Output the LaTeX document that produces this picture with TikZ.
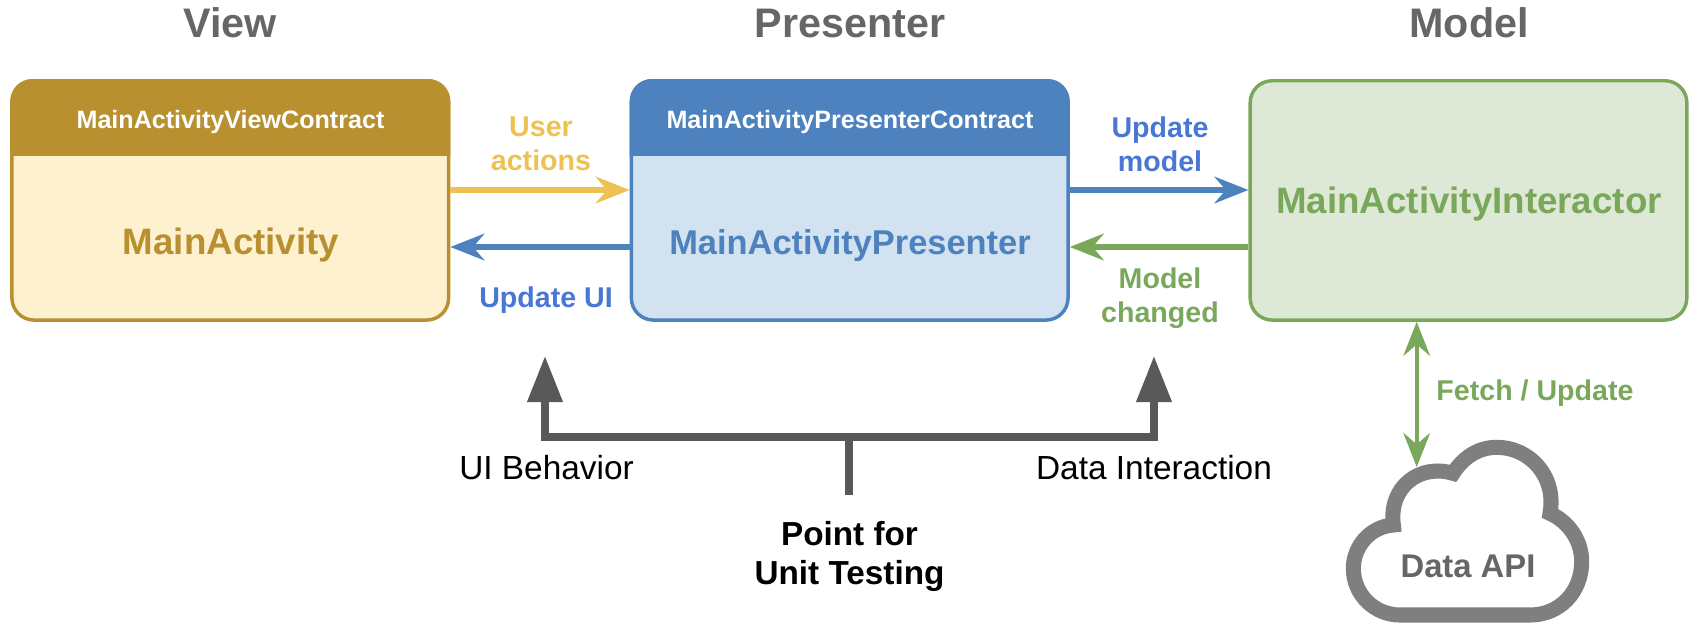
\documentclass[tikz,border=0pt]{standalone}
\usepackage{fontspec}
\setmainfont{Liberation Sans}
\usetikzlibrary{arrows.meta}
\definecolor{goldC}{HTML}{B89030}
\definecolor{goldF}{HTML}{FDF1CF}
\definecolor{yelA}{HTML}{EDC252}
\definecolor{bluC}{HTML}{4E82BE}
\definecolor{bluF}{HTML}{D3E2F1}
\definecolor{bluT}{HTML}{4878D4}
\definecolor{grnC}{HTML}{7AA85A}
\definecolor{grnF}{HTML}{DDE9D6}
\definecolor{grayT}{HTML}{666666}
\definecolor{grayD}{HTML}{595959}
\definecolor{grayC}{HTML}{7F7F7F}
\newcommand{\fpx}[1]{\fontsize{\fpeval{#1*0.75}pt}{\fpeval{#1*0.75*1.18}pt}\selectfont}
\tikzset{
  x=0.75pt,y=-0.75pt,
  txt/.style={anchor=base,inner sep=0pt,outer sep=0pt,align=center},
  title/.style={txt,font=\fpx{41.3}\bfseries,text=grayT},
  hdrtxt/.style={txt,font=\fpx{25.1}\bfseries,text=white},
  maintxt/.style={txt,font=\fpx{36.7}\bfseries},
  lbl/.style={txt,font=\fpx{28.6}\bfseries},
  plain/.style={txt,font=\fpx{33.4},text=black},
  bold/.style={txt,font=\fpx{33.3}\bfseries,text=black},
  box/.style={rectangle,line width=2.6pt,rounded corners=16.5pt,minimum height=179.5pt,inner sep=0pt},
  arr/.style={line width=4pt,-{Stealth[length=25.5pt,width=20pt,inset=8.5pt]}},
  fetcharr/.style={line width=3pt,grnC,{Stealth[length=25.5pt,width=20pt,inset=8.5pt]}-{Stealth[length=25.5pt,width=20pt,inset=8.5pt]}},
  grayarr/.style={line width=5.4pt,grayD,{Triangle[length=34.5pt,width=25.5pt]}-{Triangle[length=34.5pt,width=25.5pt]}},
}
\begin{document}
\begin{tikzpicture}
\useasboundingbox (0,0) rectangle (1700,629);
\coordinate (ya) at (0,190);
\coordinate (yb) at (0,247);
\coordinate (yh) at (0,155);
% boxes
\node[box,draw=goldC,fill=goldF,minimum width=327.5pt] (view) at (230.3,200.4) {};
\node[box,draw=bluC,fill=bluF,minimum width=327.5pt] (pres) at (849.7,200.4) {};
\node[box,draw=grnC,fill=grnF,minimum width=327.5pt] (inter) at (1468.5,200.4) {};
% header bands
\begin{scope}
\clip (view.north west) rectangle (view.east |- yh);
\fill[goldC,rounded corners=16.5pt] (view.north west) rectangle (view.south east);
\end{scope}
\begin{scope}
\clip (pres.north west) rectangle (pres.east |- yh);
\fill[bluC,rounded corners=16.5pt] (pres.north west) rectangle (pres.south east);
\end{scope}
% titles
\node[title] (tv) at (230,37) {View};
\node[title] (tp) at (850,37) {Presenter};
\node[title] (tm) at (1469,37) {Model};
% box texts
\node[hdrtxt] (hv) at (230.5,128.5) {MainActivityViewContract};
\node[hdrtxt] (hp) at (850,128.5) {MainActivityPresenterContract};
\node[maintxt,text=goldC] (mv) at (231,254) {MainActivity};
\node[maintxt,text=bluC,font=\fpx{34.4}\bfseries] (mp) at (850,254) {MainActivityPresenter};
\node[maintxt,text=grnC] (mi) at (1469,213) {MainActivityInteractor};
% horizontal connectors
\draw[arr,yelA] (view.east |- ya) -- (pres.west |- ya);
\draw[arr,bluC] (pres.west |- yb) -- (view.east |- yb);
\draw[arr,bluC] (pres.east |- ya) -- (inter.west |- ya);
\draw[arr,grnC] (inter.west |- yb) -- (pres.east |- yb);
% connector labels
\node[lbl,text=yelA,anchor=center] (ua) at (541,144) {User\\actions};
\node[lbl,text=bluT] (uu) at (546,307.5) {Update UI};
\node[lbl,text=bluT,anchor=center] (um) at (1160,144) {Update\\model};
\node[lbl,text=grnC,anchor=center] (mc) at (1160,298.5) {Model\\changed};
\node[lbl,text=grnC] (fu) at (1535,400.5) {Fetch / Update};
% cloud
\begin{scope}[shift={(1300,320)},x=0.25pt,y=-0.25pt]
\draw[grayC,line width=11.3pt,line join=miter,miter limit=10,fill=white]
 (300,885) -- (690,885) .. controls (780,885) and (845,815) .. (845,725)
 .. controls (845,660) and (805,605) .. (750,580)
 .. controls (770,470) and (690,382) .. (590,382)
 .. controls (535,382) and (490,412) .. (459,460)
 .. controls (360,430) and (265,500) .. (280,615)
 .. controls (210,620) and (160,680) .. (160,745)
 .. controls (160,825) and (225,885) .. (300,885) -- cycle;
\end{scope}
\node[txt,font=\fpx{32.8}\bfseries,text=grayT] (api) at (1468,577) {Data API};
\coordinate (cloudtop) at (1416.7,467);
\draw[fetcharr] (inter.south -| cloudtop) -- (cloudtop);
% testing bracket
\coordinate (lt) at (545,356);
\coordinate (rt) at (1154,356);
\coordinate (lc) at (545,437);
\coordinate (rc) at (1154,437);
\coordinate (mc0) at (849,437);
\coordinate (stem) at (849,495);
\draw[grayarr,line join=miter] (lt) -- (lc) -- (rc) -- (rt);
\draw[line width=5.4pt,grayD] (mc0) -- (stem);
\node[plain] (ui) at (546.5,479) {UI Behavior};
\node[plain] (di) at (1154,479) {Data Interaction};
\node[bold,anchor=center] (pt) at (849.5,556.5) {Point for\\Unit Testing};
\end{tikzpicture}
\end{document}
